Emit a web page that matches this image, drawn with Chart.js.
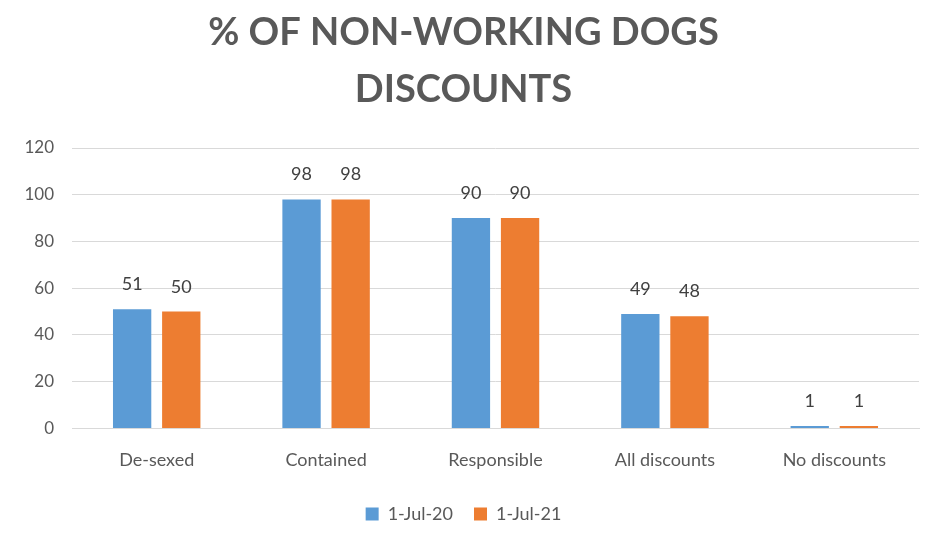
<!DOCTYPE html>
<html>
<head>
<meta charset="utf-8">
<script src="https://cdn.jsdelivr.net/npm/chart.js@4/dist/chart.umd.min.js"></script>
<style>
  html, body { margin: 0; padding: 0; background: #fff; }
  #wrap { width: 929px; height: 533px; }
</style>
</head>
<body>
<div id="wrap"><canvas id="chart"></canvas></div>
<script>
const categories = ['De-sexed', 'Contained', 'Responsible', 'All discounts', 'No discounts'];
const jul20 = [51, 98, 90, 49, 1];
const jul21 = [50, 98, 90, 48, 1];
const seriesNames = ['1-Jul-20', '1-Jul-21'];

const FONT = 'Lato, "Open Sans", sans-serif';

// labels above each bar
const barLabels = {
  id: 'barLabels',
  afterDatasetsDraw(chart) {
    const ctx = chart.ctx;
    ctx.save();
    ctx.font = '18px ' + FONT;
    ctx.fillStyle = '#404040';
    ctx.textAlign = 'center';
    ctx.textBaseline = 'alphabetic';
    chart.data.datasets.forEach((ds, i) => {
      chart.getDatasetMeta(i).data.forEach((bar, j) => {
        ctx.fillText(ds.data[j], bar.x, bar.y - 19);
      });
    });
    ctx.restore();
  }
};

Chart.register(barLabels);

new Chart(document.getElementById('chart'), {
  type: 'bar',
  data: {
    labels: categories,
    datasets: [
      { label: seriesNames[0], data: jul20, backgroundColor: '#5b9bd5' },
      { label: seriesNames[1], data: jul21, backgroundColor: '#ed7d31' }
    ]
  },
  options: {
    responsive: true,
    maintainAspectRatio: false,
    animation: false,
    layout: { padding: { left: 8, right: 10, top: 4, bottom: 0 } },
    datasets: {
      bar: { categoryPercentage: 0.58, barPercentage: 0.78 }
    },
    plugins: {
      title: {
        display: true,
        text: ['% OF NON-WORKING DOGS', 'DISCOUNTS'],
        color: '#595959',
        font: { family: FONT, size: 38, weight: 'bold', lineHeight: 1.5 },
        padding: { top: 0, bottom: 30 }
      },
      legend: {
        position: 'bottom',
        labels: {
          color: '#595959',
          font: { family: FONT, size: 18 },
          boxWidth: 13,
          boxHeight: 13,
          padding: 21
        }
      },
      tooltip: { enabled: false }
    },
    scales: {
      x: {
        grid: { display: false },
        border: { color: '#d9d9d9' },
        ticks: { color: '#595959', font: { family: FONT, size: 18 }, padding: 13 }
      },
      y: {
        min: 0,
        max: 120,
        ticks: { stepSize: 20, color: '#595959', font: { family: FONT, size: 17 }, padding: 18 },
        grid: { color: '#d9d9d9', drawTicks: false },
        border: { display: false },
        afterFit(scale) { scale.width = 64; }
      }
    }
  }
});
</script>
</body>
</html>
